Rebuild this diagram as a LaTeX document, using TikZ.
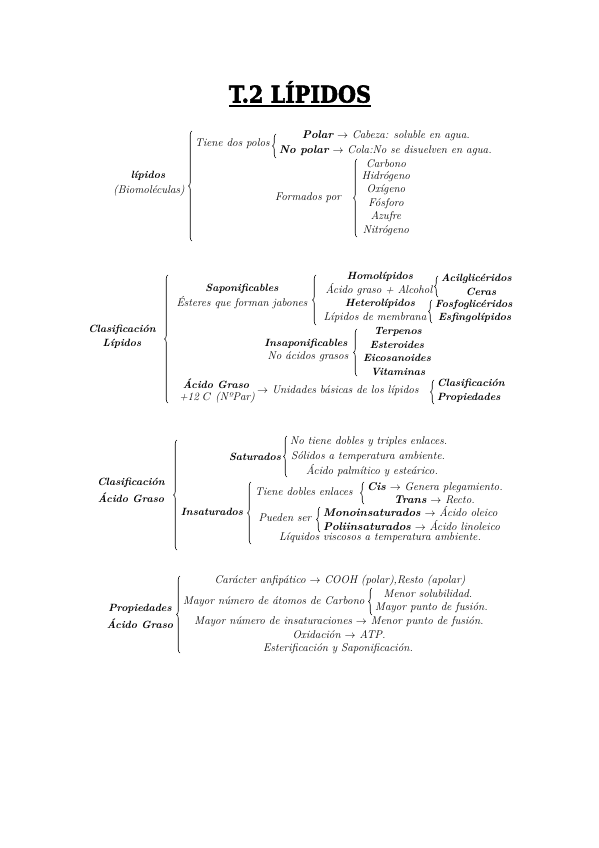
\documentclass[tikz,border=0pt]{standalone}
\usepackage{fontspec}
\usepackage{tikz}
\usetikzlibrary{decorations.pathreplacing,positioning}
\newfontfamily\titlefont{DejaVu Serif}

\begin{document}
\begin{tikzpicture}[x=1pt,y=-1pt,inner sep=0pt,
  lbl/.style={font=\fontsize{11.2}{13}\selectfont\itshape\addfontfeature{FakeBold=0.6}},
  bld/.style={font=\fontsize{10.5}{12}\selectfont\bfseries\itshape\addfontfeature{FakeBold=0.6}},
  br/.style={decorate,decoration={brace,amplitude=3.5pt},line width=0.6pt}]
  \useasboundingbox[fill=white] (0,0) rectangle (599,848);

  % titulo
  \node[font=\titlefont\fontsize{23}{26}\selectfont\bfseries\addfontfeature{FakeBold=2.5}] (title) at (300,92) {\scalebox{0.9}[1]{T.2 LÍPIDOS}};
  \draw[line width=2pt] ([yshift=-3pt]title.south west) -- ([yshift=-3pt]title.south east);

  % lipidos
  \node[bld] (lip) at (148,176) {lípidos};
  \node[lbl] (bio) at (149,191) {(Biomoléculas)};
  \draw[br] (192,241) -- (192,131);
  \node[lbl,anchor=west] (polos) at (195,144) {Tiene dos polos};
  \draw[br] (276,158) -- (276,134);
  \node[lbl] (polar) at (386,136) {\textbf{Polar} $\rightarrow$ Cabeza: soluble en agua.};
  \node[lbl,anchor=west] (nopolar) at (279,151) {\textbf{No polar} $\rightarrow$ Cola:No se disuelven en agua.};
  \node[lbl] (formados) at (308,198) {Formados por};
  \draw[br] (357,237) -- (357,159);
  \node[lbl] (c) at (386,164) {Carbono};
  \node[lbl] (h) at (386,177) {Hidrógeno};
  \node[lbl] (o) at (386,190) {Oxígeno};
  \node[lbl] (p) at (386,204) {Fósforo};
  \node[lbl] (s) at (386,217) {Azufre};
  \node[lbl] (n) at (386,231) {Nitrógeno};

  % clasificacion lipidos
  \node[bld] (clas) at (122,330) {Clasificación};
  \node[bld] (clasl) at (122,344) {Lípidos};
  \draw[br] (168,403) -- (168,275);
  \node[bld] (sapo) at (242,289) {Saponificables};
  \node[lbl] (ester) at (242,303) {Ésteres que forman jabones};
  \draw[br] (316,325) -- (316,275);
  \node[bld] (homo) at (380,277) {Homolípidos};
  \node[lbl] (agal) at (379,290) {Ácido graso + Alcohol};
  \node[bld] (hetero) at (380,304) {Heterolípidos};
  \node[lbl] (memb) at (375,318) {Lípidos de membrana};
  \draw[br] (438,297) -- (438,276);
  \node[bld,anchor=west] (acil) at (441,279) {Acilglicéridos};
  \node[bld] (ceras) at (481,292) {Ceras};
  \draw[br] (432,323) -- (432,300);
  \node[bld,anchor=west] (fosfo) at (435,305) {Fosfoglicéridos};
  \node[bld,anchor=west] (esfin) at (438,318) {Esfingolípidos};
  \node[bld] (insapo) at (306,344) {Insaponificables};
  \node[lbl] (noac) at (308,357) {No ácidos grasos};
  \draw[br] (357,376) -- (357,329);
  \node[bld] (terp) at (398,332) {Terpenos};
  \node[bld] (este) at (397,345) {Esteroides};
  \node[bld] (eico) at (397,358) {Eicosanoides};
  \node[bld] (vita) at (398,372) {Vitaminas};
  \node[bld] (acgr) at (216,384) {Ácido Graso};
  \node[lbl] (doce) at (217,398) {+12 $C$ (NºPar)};
  \node[lbl,anchor=west] (unid) at (257,391) {$\rightarrow$ Unidades básicas de los lípidos};
  \draw[br] (434,404) -- (434,380);
  \node[bld,anchor=west] (clas2) at (437,384) {Clasificación};
  \node[bld,anchor=west] (prop2) at (437,398) {Propiedades};

  % clasificacion acido graso
  \node[bld] (clasag) at (131,483) {Clasificación};
  \node[bld] (clasag2) at (131,498) {Ácido Graso};
  \draw[br] (177,550) -- (177,440);
  \node[bld] (satu) at (255,457) {Saturados};
  \draw[br] (287,477) -- (287,436);
  \node[lbl,anchor=west] (nodob) at (290,442) {No tiene dobles y triples enlaces.};
  \node[lbl,anchor=west] (solid) at (291,457) {Sólidos a temperatura ambiente.};
  \node[lbl] (palm) at (372,471) {Ácido palmítico y esteárico.};
  \node[bld] (insat) at (212,512) {Insaturados};
  \draw[br] (251,544) -- (251,482);
  \node[lbl,anchor=west] (dobles) at (255,492) {Tiene dobles enlaces};
  \draw[br] (364,504) -- (364,482);
  \node[lbl,anchor=west] (cis) at (367,488) {\textbf{Cis} $\rightarrow$ Genera plegamiento.};
  \node[lbl,anchor=east] (trans) at (475,500) {\textbf{Trans} $\rightarrow$ Recto.};
  \node[lbl] (pueden) at (285,518) {Pueden ser};
  \draw[br] (320,532) -- (320,507);
  \node[lbl,anchor=west] (mono) at (323,512) {\textbf{Monoinsaturados} $\rightarrow$ Ácido oleico};
  \node[lbl,anchor=west] (poli) at (323,526) {\textbf{Poliinsaturados} $\rightarrow$ Ácido linoleico};
  \node[lbl] (liq) at (380,538) {Líquidos viscosos a temperatura ambiente.};

  % propiedades acido graso
  \node[bld] (propag) at (140,609) {Propiedades};
  \node[bld] (propag2) at (140,624) {Ácido Graso};
  \draw[br] (180,653) -- (180,576);
  \node[lbl] (anfi) at (340,581) {Carácter anfipático $\rightarrow$ COOH (polar),Resto (apolar)};
  \node[lbl,anchor=west] (mayor) at (183,602) {Mayor número de átomos de Carbono};
  \draw[br] (372,615) -- (372,588);
  \node[lbl] (menor) at (428,594) {Menor solubilidad.};
  \node[lbl,anchor=west] (fusion) at (375,608) {Mayor punto de fusión.};
  \node[lbl] (insatu) at (339,622) {Mayor número de insaturaciones $\rightarrow$ Menor punto de fusión.};
  \node[lbl] (oxi) at (339,635) {Oxidación $\rightarrow$ ATP.};
  \node[lbl] (esterif) at (338,649) {Esterificación y Saponificación.};
\end{tikzpicture}
\end{document}
